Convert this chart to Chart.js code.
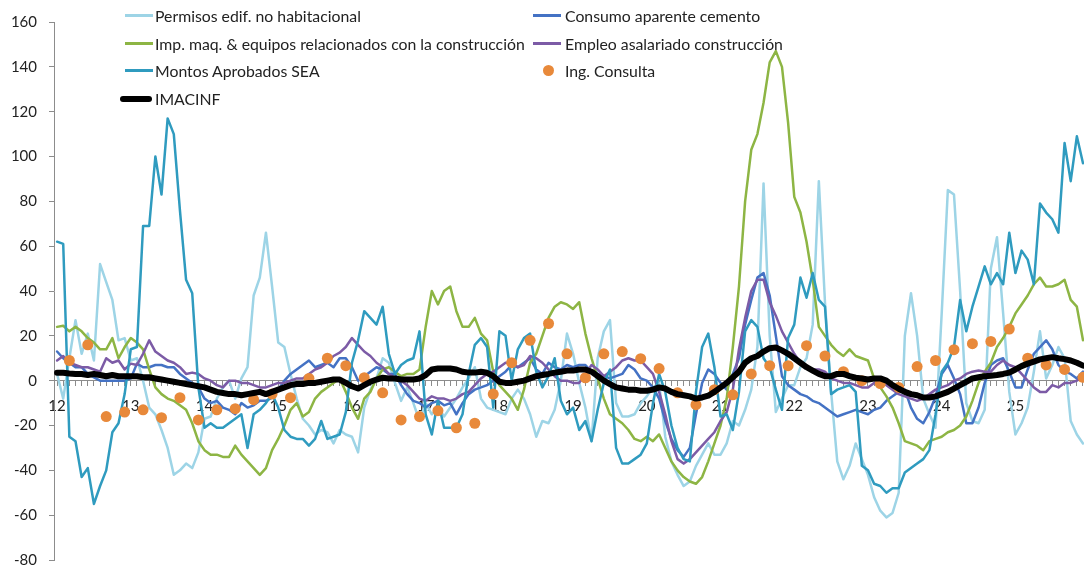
<!DOCTYPE html>
<html>
<head>
<meta charset="utf-8">
<script src="https://cdn.jsdelivr.net/npm/chart.js@4.4.1/dist/chart.umd.min.js"></script>
<style>
  body { margin: 0; background: #fff; }
  #marco { position: relative; width: 1084px; height: 567px; overflow: hidden; }
  #leyenda { position: absolute; left: 0; top: 0; font-family: Lato, "Open Sans", sans-serif; font-size: 15.8px; color: #222; }
  .item { position: absolute; white-space: nowrap; height: 20px; line-height: 20px; }
  .muestra { position: absolute; top: 8px; height: 3px; }
  .punto { position: absolute; top: 4px; width: 11px; height: 11px; border-radius: 50%; }
</style>
</head>
<body>
<div id="marco">
  <canvas id="grafico" width="1094" height="581"></canvas>
  <div id="leyenda"></div>
</div>
<script>
// meses ene-2012 .. dic-2025, etiqueta solo en enero
var etiquetasAnio = ['12','13','14','15','16','17','18','19','20','21','22','23','24','25'];
var meses = [];
etiquetasAnio.forEach(function (a) {
  for (var m = 1; m <= 12; m++) meses.push(a + '-' + m);
});

var permisos = [
  3,-8,10,27,12,21,9,52,44,36,18,19,
  9,10,0,-12,-15,-22,-30,-42,-40,-37,-39,-32,
  -17,-16,-8,-3,0,-8,1,6,38,46,66,42,
  17,15,3,-8,-17,-20,-24,-22,-23,-28,-22,-24,
  -25,-32,-12,-4,1,10,8,-1,-9,-3,-10,-18,
  -10,-15,-12,-16,-12,-8,-3,1,6,-8,-12,-13,
  -14,-15,-8,-4,-8,-15,-25,-18,-19,-13,0,21,
  12,-1,-12,-27,10,22,27,-10,-16,-16,-15,-10,
  -7,-3,-1,-25,-36,-42,-47,-45,-38,-33,-28,-33,
  -33,-28,-18,-20,-13,-4,15,88,20,-14,-8,-2,
  -2,6,10,25,89,35,-5,-36,-44,-38,-28,-35,
  -42,-52,-58,-61,-59,-50,20,39,20,-8,-15,-21,
  30,85,83,40,-10,-18,-19,-13,50,64,30,-5,
  -24,-19,-12,4,22,1,7,15,10,-18,-24,-28
];
var consumo = [
  13,10,8,6,6,3,1.5,0,0,0,0,0,
  1,7.6,6,6,7,7,6,6,3,1,-1,-3,
  -8,-10,-9,-12,-13,-15,-10,-12,-11,-9,-9,-7.6,
  -4,0,3,5,7,9,6,7,8,6,10,10,
  6,0,2,4,6,5,3,3,-2,-6,-9,-10,
  -12,-10,-9,-11,-10,-15,-10,-6,-4,-3,-2,0,
  2,4,7,6,8,10,5,3,8,6,5,7,
  6,7,7,4,3,2,1,2,3,7,5,1,
  0,-3,-8,-18,-26,-31,-34,-30,-15,-1,5,3,
  -1,-4,3,10,25,36,46,48,38,20,2,-2,
  -4,-6,-7,-9,-10,-12,-14,-16,-15,-14,-13,-14,
  -15,-13,-12,-9,-7,-5,-4,-12,-17,-19,-14,-7,
  3,7,1,-6,-19,-19,-12,-1,7,9,10,4,
  -3,-3,5,12,15,18,14,7,4,3,1,4
];
var impMaq = [
  24,24.5,22,24,22,19,17,14,14,19,10,15,
  19,17,14,5,-3,-6,-8,-9,-11,-13,-19,-27,
  -31,-33,-33,-34,-34,-29,-33,-36,-39,-42,-39,-31,
  -26,-20,-13,-10,-16,-14,-8,-5,-3,-1,1,-5,
  -12,-17,-8,-5,1,5,6,4,2,3,3,5,
  24,40,34,40,42,31,24,24,28,21,18,4,
  -2,-5,-8,-13,-4,8,12,20,28,33,35,34,
  32,35,21,10,1,-8,-15,-17,-19,-22,-26,-27,
  -25,-27,-24,-30,-36,-40,-43,-45,-46,-43,-36,-28,
  -20,-8,15,42,80,103,110,124,142,147,140,115,
  82,75,62,45,24,20,16,13,11,14,11,10,
  9,1,-3,-7,-12,-19,-27,-28,-29,-31,-27,-26,
  -25,-23,-22,-20,-16,-9,-1,4,8,15,19,24,
  30,34,38,43,46,42,42,43,45,36,33,18
];
var empleo = [
  9,11,8,7,6,6,5,4,10,8,9,5,
  7.6,7,12,18,13,11,9,8,6,3,3.6,3,
  1,0,-2,-3,0,0,-1,-1,-2,-3,-3,-2,
  -1,-1,0,1,1,3,5,6,8,11,12.5,15,
  19,16,13,11,8,6,3,1.3,0,-2,-5,-8,
  -9,-7,-8,-8,-9,-8,-6,-5,-2,1,3,4,
  6,8,8,6,7,11,10,8,5,2,0,0,
  -1,-1,3,7,5,2,4,6,9,10,9,9,
  6,3,-5,-15,-27,-35,-37,-35,-32,-29,-26,-23,
  -18,-14,-4,14,28,40,45,45,35,29,22,17,
  12,8,6,5,5,4,1,0,-1,-1,-2,-3,
  -3,-1,-1,-2,-4,-6,-7,-8,-9,-8,-6,-4,
  -3,-2,0,1,3,4,4.5,4,4,7,9,7,
  6,3,0,-3,-5,-5,-2,-3,-1,-1,0,2
];
var montos = [
  62,61,-25,-27,-43,-39,-55,-47,-40,-23,-19,-6,
  14,15,69,69,100,83,117,110,76,45,39,-3,
  -21,-19,-21,-21,-19,-17,-15,-30,-15,-13,-10,-6,
  -12,-22,-25,-26,-26,-29,-26,-18,-26,-25,-24,-14,
  8,18,31,28,25,33,12,3,7,9,10,22,
  -15,-24,-9,-21,-21,-21,-15,3,16,19,15,-12,
  22,20,0,14,19,21,4,-3,2,10,-9,-15,
  -12,-22,-18,-27,-13,-1,5,-30,-37,-37,-35,-33,
  -28,-10,3,-5,-20,-30,-35,-36,-5,15,21,6,
  -16,-15,-22,-5,22,27,24,10,6,-4,-13,19,
  25,46,37,48,36,33,-6,-4,-3,-2,-5,-38,
  -40,-46,-47,-50,-48,-48,-41,-39,-37,-35,-31,-15,
  4,8,15,36,22,33,42,51,43,48,43,66,
  48,58,54,43,79,75,72,66,106,89,109,97
];
// trimestral: mar, jun, sep, dic
var ingConsultaTrim = [
  9,16,-16,-14, -13,-16.5,-7.6,-17.5, -13,-12.5,-8.5,-6, -7.6,1,10,6.7,
  1.3,-5.4,-17.5,-16, -13.4,-21,-19,-6, 8,18,25.5,12, 1.3,12,13,9.8,
  5.4,-5.4,-10.7,-4, -6.3,3,6.7,6.7, 15.6,11,4,0, -1.3,-3,6.3,9,
  13.8,16.5,17.5,23, 10,7,5,1.5
];
var imacinf = [
  3.5,3.5,3.2,3,3,2.5,3,2.5,2,2.5,2,2,
  2,2,1.5,1.5,1,0.5,0,-0.5,-1,-1.5,-2,-2.5,
  -3,-4,-5,-5.5,-6,-6,-6.5,-6,-5.5,-5,-6,-5,
  -4,-3,-2,-1.5,-1.5,-1,-1,-0.5,0,0.5,0.5,-1,
  -2.5,-3.5,-2,-0.5,0.5,1.3,1,1,0.5,0.5,0.5,1,
  2.5,5,5.4,5.4,5.4,5,4,3.6,3.6,4,3.5,2,
  -0.5,-1,-1,-0.5,0,1,2,2.5,3,3.6,4,4.5,
  4.5,5,5,4,2,0,-1.5,-3,-3.5,-4,-4,-4.5,
  -4.5,-4,-3,-3.5,-5,-6,-6.5,-7,-8,-7.5,-6.7,-5,
  -3,-1,1.5,4,8,10,11,13,14.5,14.8,13.5,12,
  10,8,6,4.5,3,2,2,3,3,2,1.3,1,
  0.5,1,1,0,-2,-3.6,-5,-6,-6.5,-7.5,-7.5,-7,
  -6,-5,-3.5,-2,-0.5,1,1.5,2,2.2,2.5,3,3.6,
  5,6.5,7.6,8.5,9.5,10,10.5,10,9.6,9,8,6.7
];

var ingConsulta = meses.map(function (m, i) {
  return (i % 3 === 2) ? ingConsultaTrim[(i - 2) / 3] : null;
});

var fuente = 'Lato, "Open Sans", sans-serif';
var gris = '#8c8c8c';

var series = [
  { label: 'Permisos edif. no habitacional', data: permisos, borderColor: '#9dd4e6', borderWidth: 2.5, order: 6, col: 0, fila: 0 },
  { label: 'Consumo aparente cemento', data: consumo, borderColor: '#4472c4', borderWidth: 2.5, order: 5, col: 1, fila: 0 },
  { label: 'Imp. maq. & equipos relacionados con la construcción', data: impMaq, borderColor: '#8db544', borderWidth: 2.5, order: 4, col: 0, fila: 1 },
  { label: 'Empleo asalariado construcción', data: empleo, borderColor: '#7c5ba6', borderWidth: 2.5, order: 3, col: 1, fila: 1 },
  { label: 'Montos Aprobados SEA', data: montos, borderColor: '#2f9bbf', borderWidth: 2.5, order: 2, col: 0, fila: 2 },
  { label: 'Ing. Consulta', data: ingConsulta, showLine: false, pointRadius: 5.5, pointBackgroundColor: '#e8893a', pointBorderWidth: 0, borderColor: '#e8893a', order: 1, col: 1, fila: 2, esPunto: true },
  { label: 'IMACINF', data: imacinf, borderColor: '#000000', borderWidth: 6, order: 0, col: 0, fila: 3 }
];

// leyenda al estilo excel, dos columnas sobre el area del grafico
var ley = document.getElementById('leyenda');
var filasY = [6, 34, 61, 89];
var colX = [125, 533];
series.forEach(function (s) {
  var d = document.createElement('div');
  d.className = 'item';
  d.style.left = colX[s.col] + 'px';
  d.style.top = filasY[s.fila] + 'px';
  var mk = document.createElement('span');
  if (s.esPunto) {
    mk.className = 'punto';
    mk.style.left = '10px';
    mk.style.background = s.pointBackgroundColor;
  } else {
    mk.className = 'muestra';
    mk.style.left = s.label === 'IMACINF' ? '-5px' : '0px';
    mk.style.width = s.label === 'IMACINF' ? '32px' : '28px';
    mk.style.background = s.borderColor;
    if (s.label === 'IMACINF') { mk.style.height = '6px'; mk.style.top = '7px'; mk.style.borderRadius = '3px'; }
  }
  d.appendChild(mk);
  var t = document.createElement('span');
  t.textContent = s.label;
  t.style.marginLeft = (s.col === 0 ? 30 : 32) + 'px';
  d.appendChild(t);
  ley.appendChild(d);
});

var ctx = document.getElementById('grafico');
new Chart(ctx, {
  type: 'line',
  data: {
    labels: meses,
    datasets: series.map(function (s) {
      return {
        label: s.label, data: s.data, order: s.order,
        borderColor: s.borderColor, borderWidth: s.borderWidth || 0,
        showLine: s.showLine !== false,
        pointRadius: s.pointRadius || 0,
        pointBackgroundColor: s.pointBackgroundColor,
        pointBorderWidth: 0,
        tension: 0, fill: false
      };
    })
  },
  options: {
    responsive: false,
    animation: false,
    layout: { autoPadding: false, padding: { top: 22, bottom: 7, left: 0, right: 1 } },
    plugins: { legend: { display: false }, tooltip: { enabled: false } },
    elements: { line: { borderJoinStyle: 'round', borderCapStyle: 'round' } },
    scales: {
      x: {
        position: { y: 0 },
        offset: true,
        grid: { drawOnChartArea: false, drawTicks: true, tickLength: 5, color: gris },
        border: { color: gris, width: 1 },
        ticks: {
          autoSkip: false, maxRotation: 0, padding: 11,
          font: { family: fuente, size: 15 }, color: '#222',
          callback: function (v, i) { return i % 12 === 0 ? etiquetasAnio[i / 12] : ''; }
        }
      },
      y: {
        min: -80, max: 160,
        grid: { drawOnChartArea: false, tickLength: 5, color: gris },
        border: { color: gris, width: 1 },
        ticks: { stepSize: 20, padding: 12, font: { family: fuente, size: 15 }, color: '#222' },
        afterFit: function (s) { s.width = 54; }
      }
    }
  }
});
</script>
</body>
</html>
